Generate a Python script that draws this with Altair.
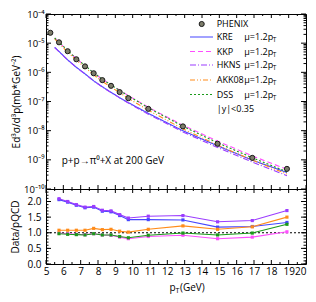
import altair as alt
import pandas as pd

# ---- data ----
pt_data = [5.25, 5.75, 6.25, 6.75, 7.25, 7.75, 8.25, 8.75, 9.25, 9.75, 10.9, 12.9, 14.9, 16.9, 18.9]
sigma_data = [2.27e-5, 1.07e-5, 5.3e-6, 2.8e-6, 1.6e-6, 9.3e-7, 5.4e-7, 3.45e-7,
              2.1e-7, 1.3e-7, 5.6e-8, 1.4e-8, 3.56e-9, 1.17e-9, 4.9e-10]
pt_ratio = [5.75, 6.25, 6.75, 7.25, 7.75, 8.25, 8.75, 9.25, 9.75, 10.9, 12.9, 14.9, 16.9, 18.9]
ratio_KRE = [2.06, 1.98, 1.88, 1.80, 1.82, 1.69, 1.67, 1.55, 1.42, 1.42, 1.41, 1.18, 1.20, 1.33]
ratio_KKP = [0.99, 0.97, 0.95, 0.94, 0.97, 0.93, 0.92, 0.86, 0.81, 0.88, 0.92, 0.81, 0.86, 1.03]
ratio_HKNS = [2.09, 2.00, 1.90, 1.82, 1.84, 1.72, 1.70, 1.58, 1.47, 1.53, 1.55, 1.35, 1.39, 1.71]
ratio_AKK08 = [1.08, 1.08, 1.08, 1.08, 1.14, 1.10, 1.11, 1.05, 1.02, 1.11, 1.22, 1.11, 1.19, 1.50]
ratio_DSS = [0.97, 0.95, 0.94, 0.93, 0.97, 0.93, 0.93, 0.88, 0.84, 0.92, 0.99, 0.93, 0.99, 1.27]

# start of the pQCD curves (pT = 5.5)
pt_curve_start = 5.5
curve_start = {"KRE": 7.2e-6, "KKP": 1.5e-5, "HKNS": 7.0e-6, "AKK08": 1.4e-5, "DSS": 1.5e-5}

models = ["KRE", "KKP", "HKNS", "AKK08", "DSS"]
ratios = {"KRE": ratio_KRE, "KKP": ratio_KKP, "HKNS": ratio_HKNS,
          "AKK08": ratio_AKK08, "DSS": ratio_DSS}
line_colors = ["#4646ff", "#ff4dff", "#9b3cff", "#ff8c1a", "#1a9a1a"]
ratio_colors = ["#1f1fff", "#ff33ff", "#8c3cff", "#ff8000", "#108a10"]
dashes = [[1, 0], [5, 3], [6, 2, 1, 2], [5, 2, 1, 2, 1, 2], [2, 2]]

x_major = list(range(5, 21))
x_minor = [v + 0.5 for v in range(5, 20)]
y1_major = [10.0 ** e for e in range(-10, -3)]
y1_minor = [m * 10.0 ** e for e in range(-10, -4) for m in range(2, 10)]
y2_major = [0.0, 0.5, 1.0, 1.5, 2.0]
y2_minor = [i / 10 for i in range(0, 24)]

W, H1, H2 = 260, 175, 75
FONT = "Open Sans"

# ---- tables ----
rows = []
ratio_rows = []
for m in models:
    rows.append({"model": m, "x": pt_curve_start, "y": curve_start[m]})
    for i, p in enumerate(pt_ratio):
        rows.append({"model": m, "x": p, "y": sigma_data[i + 1] / ratios[m][i]})
        ratio_rows.append({"model": m, "x": p, "y": ratios[m][i]})
theory = pd.DataFrame(rows)
ratio_df = pd.DataFrame(ratio_rows)
pts = pd.DataFrame({"x": pt_data, "y": sigma_data})
one = pd.DataFrame({"a": [0]})

xs = alt.Scale(domain=[5, 20], nice=False, zero=False)
ys1 = alt.Scale(type="log", domain=[1e-10, 1e-4], nice=False)
ys2 = alt.Scale(domain=[0, 2.4], nice=False, zero=False)

sup = "['10⁰','10⁻¹','10⁻²','10⁻³','10⁻⁴','10⁻⁵','10⁻⁶','10⁻⁷','10⁻⁸','10⁻⁹','10⁻¹⁰'][round(-log(datum.value)/LN10)]"
ax_y1 = alt.Axis(values=y1_major, labelExpr=sup, title="Ed³σ/d³p(mb*GeV⁻²)",
                 labelPadding=2, titlePadding=2, labelFontSize=9.5)
ax_y2 = alt.Axis(values=y2_major, format=".1f", title="Data/pQCD", labelPadding=5, titlePadding=6)
ax_x2 = alt.Axis(values=x_major, format="d", title=None, labelPadding=2,
                 labelAlign={"condition": {"test": "datum.value == 20", "value": "right"}, "value": "center"})


def X1():
    return alt.X("x:Q", scale=xs, axis=None)


def Y1():
    return alt.Y("y:Q", scale=ys1, axis=ax_y1)


def X2():
    return alt.X("x:Q", scale=xs, axis=ax_x2)


def Y2():
    return alt.Y("y:Q", scale=ys2, axis=ax_y2)


def xticks(X, h):
    layers = []
    for vals, ln in ((x_major, 4), (x_minor, 2)):
        d = pd.DataFrame({"x": vals})
        layers.append(alt.Chart(d).mark_rule(color="black").encode(
            x=X(), y=alt.value(h), y2=alt.value(h - ln)))
        layers.append(alt.Chart(d).mark_rule(color="black").encode(
            x=X(), y=alt.value(0), y2=alt.value(ln)))
    return layers


def yticks(Y, majors, minors):
    layers = []
    for vals, ln in ((majors, 5), (minors, 2.5)):
        d = pd.DataFrame({"y": vals})
        layers.append(alt.Chart(d).mark_rule(color="black").encode(
            y=Y(), x=alt.value(0), x2=alt.value(ln)))
        layers.append(alt.Chart(d).mark_rule(color="black").encode(
            y=Y(), x=alt.value(W), x2=alt.value(W - ln)))
    return layers


def label(txt, x, y, size=9, align="left"):
    return alt.Chart(one).mark_text(align=align, baseline="middle", fontSize=size, font=FONT).encode(
        x=alt.value(x), y=alt.value(y), text=alt.value(txt))


# ---- top panel ----
top_layers = []
top_layers.append(alt.Chart(theory).mark_line(strokeWidth=1.1).encode(
    x=X1(), y=Y1(),
    color=alt.Color("model:N", scale=alt.Scale(domain=models, range=line_colors), legend=None),
    strokeDash=alt.StrokeDash("model:N", scale=alt.Scale(domain=models, range=dashes), legend=None),
    detail="model:N"))
top_layers.append(alt.Chart(pts).mark_point(shape="circle", filled=True, fill="#7d7d6a",
                                            stroke="#1a1a1a", strokeWidth=1, size=26,
                                            opacity=1).encode(x=X1(), y=Y1()))
top_layers += xticks(X1, H1)
top_layers += yticks(Y1, y1_major, y1_minor)

leg_y = [10, 23, 37.5, 51, 66, 80.5, 94.5]
top_layers.append(alt.Chart(one).mark_point(shape="circle", filled=True, fill="#7d7d6a",
                                            stroke="#1a1a1a", strokeWidth=1, size=26, opacity=1).encode(
    x=alt.value(155.7), y=alt.value(leg_y[0])))
top_layers.append(label("PHENIX", 170.7, leg_y[0]))
for i, m in enumerate(models):
    yy = leg_y[i + 1]
    top_layers.append(alt.Chart(one).mark_rule(color=line_colors[i], strokeDash=dashes[i],
                                               strokeWidth=1.1).encode(
        x=alt.value(144), x2=alt.value(167), y=alt.value(yy)))
    top_layers.append(label(m, 170.7, yy))
    top_layers.append(label("μ=1.2p", 198.3, yy))
    top_layers.append(label("T", 226.8, yy + 3, size=6.5))
top_layers.append(label("|y|<0.35", 170.7, leg_y[6]))
top_layers.append(label("p+p→π⁰+X at 200 GeV", 15.7, 147.3, size=10))

top = alt.layer(*top_layers).properties(width=W, height=H1)

# ---- bottom panel ----
bot_layers = []
bot_layers.append(alt.Chart(pd.DataFrame({"y": [1.0]})).mark_rule(color="black", strokeDash=[2, 2]).encode(
    y=Y2(), x=alt.value(0), x2=alt.value(W)))
bot_layers.append(alt.Chart(ratio_df).mark_line(
    strokeWidth=1.1, point=alt.OverlayMarkDef(shape="square", size=10, filled=True)).encode(
    x=X2(), y=Y2(),
    color=alt.Color("model:N", scale=alt.Scale(domain=models, range=ratio_colors), legend=None),
    detail="model:N"))
bot_layers += xticks(X2, H2)
bot_layers += yticks(Y2, y2_major, y2_minor)
bot_layers.append(label("p", 123.5, 99, size=10))
bot_layers.append(label("T", 129.5, 102, size=7))
bot_layers.append(label("(GeV)", 134, 99, size=10))

bottom = alt.layer(*bot_layers).properties(width=W, height=H2)

chart = alt.vconcat(top, bottom, spacing=0, bounds="flush").properties(
    padding={"left": 2, "top": 0, "right": 0, "bottom": 0}
).configure_view(stroke="black", strokeWidth=1).configure_axis(
    labelFont=FONT, titleFont=FONT, labelColor="black", titleColor="black",
    labelFontSize=10, titleFontSize=10, titleFontWeight="normal",
    grid=False, domain=False, ticks=False
).configure_text(font=FONT)

chart.save("out.html", embed_options={"renderer": "svg", "actions": False})
